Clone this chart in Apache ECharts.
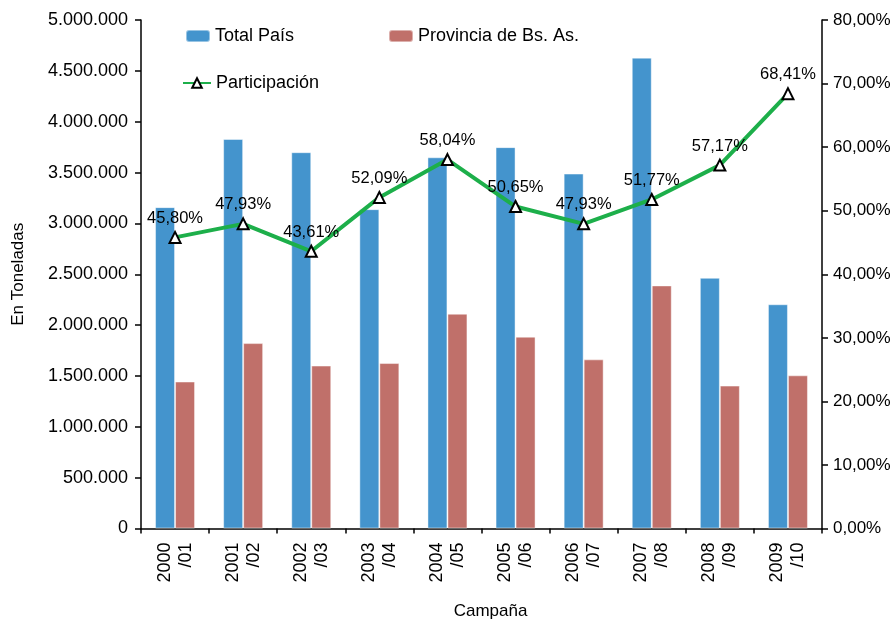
<!DOCTYPE html>
<html>
<head>
<meta charset="utf-8">
<script src="https://cdn.jsdelivr.net/npm/echarts@6/dist/echarts.min.js"></script>
<style>
  html, body { margin: 0; padding: 0; background: #fff; }
  #chart { width: 896px; height: 619px; }
</style>
</head>
<body>
<div id="chart"></div>
<script>
// campañas
const campanas = ['2000\n/01', '2001\n/02', '2002\n/03', '2003\n/04', '2004\n/05',
                  '2005\n/06', '2006\n/07', '2007\n/08', '2008\n/09', '2009\n/10'];
// toneladas
const totalPais = [3160000, 3830000, 3700000, 3140000, 3650000,
                   3750000, 3490000, 4630000, 2465000, 2205000];
const provinciaBsAs = [1445000, 1823000, 1602000, 1627000, 2112000,
                       1886000, 1663000, 2390000, 1405000, 1506000];
// participacion en %
const participacion = [45.80, 47.93, 43.61, 52.09, 58.04, 50.65, 47.93, 51.77, 57.17, 68.41];

const FONT = 'Liberation Sans, Arial, sans-serif';

const chart = echarts.init(document.getElementById('chart'));

function miles(v) {
  return String(v).replace(/\B(?=(\d{3})+(?!\d))/g, '.');
}
function pct(v) {
  return v.toFixed(2).replace('.', ',') + '%';
}

const legendText = { fontSize: 18, color: '#000', fontFamily: FONT };

const option = {
  animation: false,
  textStyle: { fontFamily: FONT, color: '#000' },
  grid: { left: 141, right: 74, top: 20, bottom: 90.5, outerBoundsMode: 'none', containLabel: false },
  legend: [
    { data: ['Total País'], left: 180, top: 22, itemWidth: 24, itemHeight: 12, itemGap: 4, textStyle: legendText },
    { data: ['Provincia de Bs. As.'], left: 383, top: 22, itemWidth: 24, itemHeight: 12, textStyle: legendText },
    { data: ['Participación'], left: 177, top: 69, itemWidth: 28, itemHeight: 12, textStyle: legendText }
  ],
  xAxis: {
    type: 'category',
    data: campanas,
    name: 'Campaña',
    nameLocation: 'middle',
    nameGap: 74,
    nameTextStyle: { fontSize: 17, color: '#000', padding: [0, 0, 0, 18] },
    axisLine: { lineStyle: { color: '#000', width: 1.5 } },
    axisTick: { show: true, length: 5, lineStyle: { color: '#000', width: 1.5 } },
    axisLabel: { rotate: 90, fontSize: 18, color: '#000', lineHeight: 21, margin: 14, interval: 0 }
  },
  yAxis: [
    {
      type: 'value',
      min: 0, max: 5000000, interval: 500000,
      name: 'En Toneladas',
      nameLocation: 'middle',
      nameGap: 114,
      nameTextStyle: { fontSize: 17, color: '#000' },
      axisLine: { show: true, lineStyle: { color: '#000', width: 1.5 } },
      axisTick: { show: true, length: 6, lineStyle: { color: '#000', width: 1.5 } },
      axisLabel: { fontSize: 18, color: '#000', margin: 13, formatter: miles },
      splitLine: { show: false }
    },
    {
      type: 'value',
      min: 0, max: 80, interval: 10,
      position: 'right',
      axisLine: { show: true, lineStyle: { color: '#000', width: 1.5 } },
      axisTick: { show: true, length: 6, lineStyle: { color: '#000', width: 1.5 } },
      axisLabel: { fontSize: 17, color: '#000', margin: 11, formatter: pct },
      splitLine: { show: false }
    }
  ],
  series: [
    {
      name: 'Total País',
      type: 'bar',
      data: totalPais,
      barWidth: 20,
      barGap: '0%',
      itemStyle: { color: '#4494CD', borderColor: 'rgba(255,255,255,0.45)', borderWidth: 1 }
    },
    {
      name: 'Provincia de Bs. As.',
      type: 'bar',
      data: provinciaBsAs,
      barWidth: 20,
      itemStyle: { color: '#C0706A', borderColor: 'rgba(255,255,255,0.45)', borderWidth: 1 }
    },
    {
      name: 'Participación',
      type: 'line',
      yAxisIndex: 1,
      data: participacion,
      symbol: 'triangle',
      symbolSize: 11,
      showAllSymbol: true,
      lineStyle: { color: '#1DAF4A', width: 4 },
      itemStyle: { color: '#fff', borderColor: '#000', borderWidth: 2 },
      label: {
        show: true, position: 'top', distance: 4,
        fontSize: 16.5, color: '#000', fontFamily: FONT,
        formatter: p => pct(p.value)
      },
      z: 5
    }
  ]
};

chart.setOption(option);
</script>
</body>
</html>
